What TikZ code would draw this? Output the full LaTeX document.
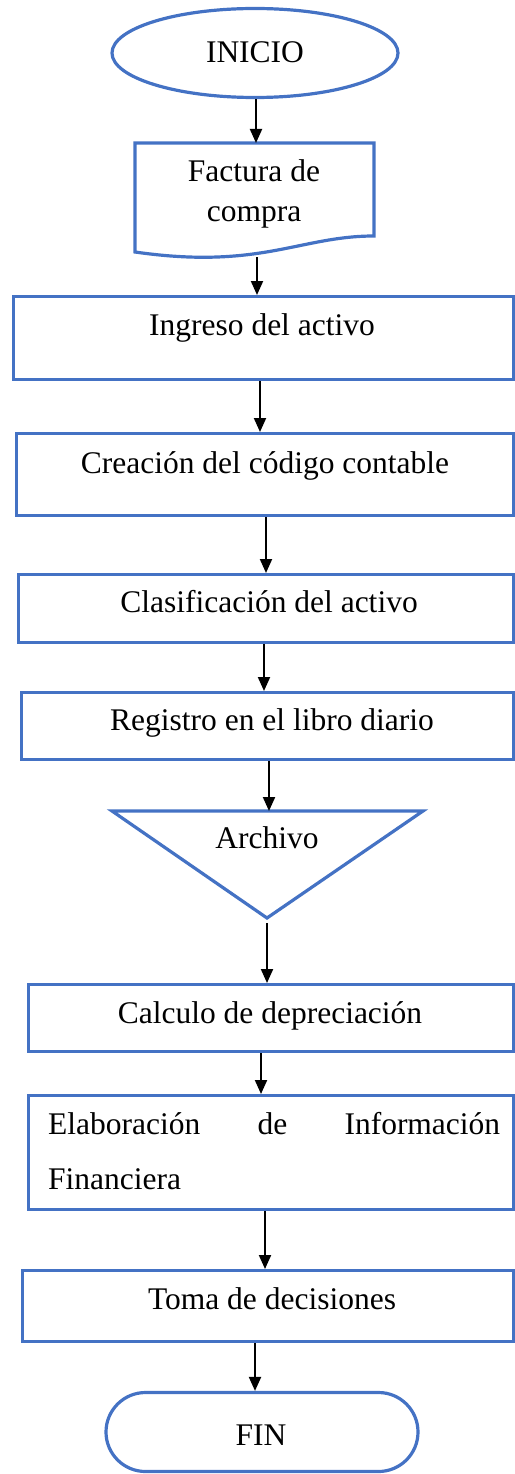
\documentclass[tikz,border=0pt]{standalone}
\usepackage{fontspec}
\setmainfont{Liberation Serif}
\usetikzlibrary{arrows.meta,shapes.geometric}
\definecolor{boxblue}{HTML}{4472C4}
\tikzset{
  shapeline/.style={draw=boxblue,line width=3.2pt},
  procbox/.style={shapeline,rectangle,inner sep=0pt,anchor=north west},
  lbl/.style={anchor=base,inner sep=0pt,font=\fontsize{31.5}{38}\selectfont},
  flow/.style={draw=black,line width=2pt,-{Triangle[length=14pt,width=12pt]}},
}
\newcommand{\pbox}[5]{% name, left, top, right, bottom
  \node[procbox,minimum width={#4-#2},minimum height={#5-#3}] (#1) at (#2,#3) {};}
\begin{document}
\begin{tikzpicture}[x=1pt,y=-1pt]
\useasboundingbox (0,0) rectangle (514,1474);
% INICIO
\node[shapeline,ellipse,minimum width=286pt,minimum height=89pt,inner sep=0pt] (ini) at (255,53) {};
\node[lbl] (tini) at (255,63) {INICIO};
% Factura
\draw[shapeline] (135,143) -- (374,143) -- (374,236)
  .. controls (300,236) and (260,270) .. (135,252) -- cycle;
\coordinate (facttop) at (256,143);
\coordinate (factbot) at (257,257);
\node[lbl] (tfac1) at (254,182) {Factura de};
\node[lbl] (tfac2) at (254,221) {compra};
% boxes
\pbox{ing}{12}{295}{512}{378}
\node[lbl] (ting) at (262,335) {Ingreso del activo};
\pbox{cre}{15}{432}{512}{514}
\node[lbl] (tcre) at (265,473) {Creación del código contable};
\pbox{cla}{17}{573}{512}{641}
\node[lbl] (tcla) at (269,612) {Clasificación del activo};
\pbox{reg}{20}{691}{512}{758}
\node[lbl] (treg) at (272,730) {Registro en el libro diario};
% Archivo
\draw[shapeline,line join=miter] (112,811) -- (423,811) -- (267,918) -- cycle;
\coordinate (arctop) at (269,811);
\coordinate (arcbot) at (267,923);
\node[lbl] (tarc) at (267,848) {Archivo};
\pbox{cal}{27}{983}{512}{1050}
\node[lbl] (tcal) at (270,1023) {Calculo de depreciación};
\pbox{ela}{27}{1094}{512}{1208}
\node[lbl,anchor=base west] (tela1) at (48,1134) {\makebox[452pt][s]{Elaboración\hfill de\hfill Información}};
\node[lbl,anchor=base west] (tela2) at (48,1189) {Financiera};
\pbox{tom}{21}{1269}{512}{1340}
\node[lbl] (ttom) at (272,1309) {Toma de decisiones};
% FIN
\node[shapeline,rectangle,rounded corners=39.5pt,minimum width=312pt,minimum height=79pt,inner sep=0pt] (fin) at (262,1432) {};
\node[lbl] (tfin) at (261,1445) {FIN};
% arrows
\draw[flow] (ini.south -| facttop) -- (facttop);
\draw[flow] (factbot) -- (factbot |- ing.north);
\draw[flow] ([xshift=248pt]ing.south west) -- ([xshift=245pt]cre.north west);
\draw[flow] ([xshift=251pt]cre.south west) -- ([xshift=249pt]cla.north west);
\draw[flow] ([xshift=247pt]cla.south west) -- ([xshift=244pt]reg.north west);
\draw[flow] ([xshift=249pt]reg.south west) -- (arctop);
\draw[flow] (arcbot) -- ([xshift=240pt]cal.north west);
\draw[flow] ([xshift=234pt]cal.south west) -- ([xshift=234pt]ela.north west);
\draw[flow] ([xshift=238pt]ela.south west) -- ([xshift=244pt]tom.north west);
\draw[flow] ([xshift=234pt]tom.south west) -- ([xshift=-7pt]fin.north);
\end{tikzpicture}
\end{document}
